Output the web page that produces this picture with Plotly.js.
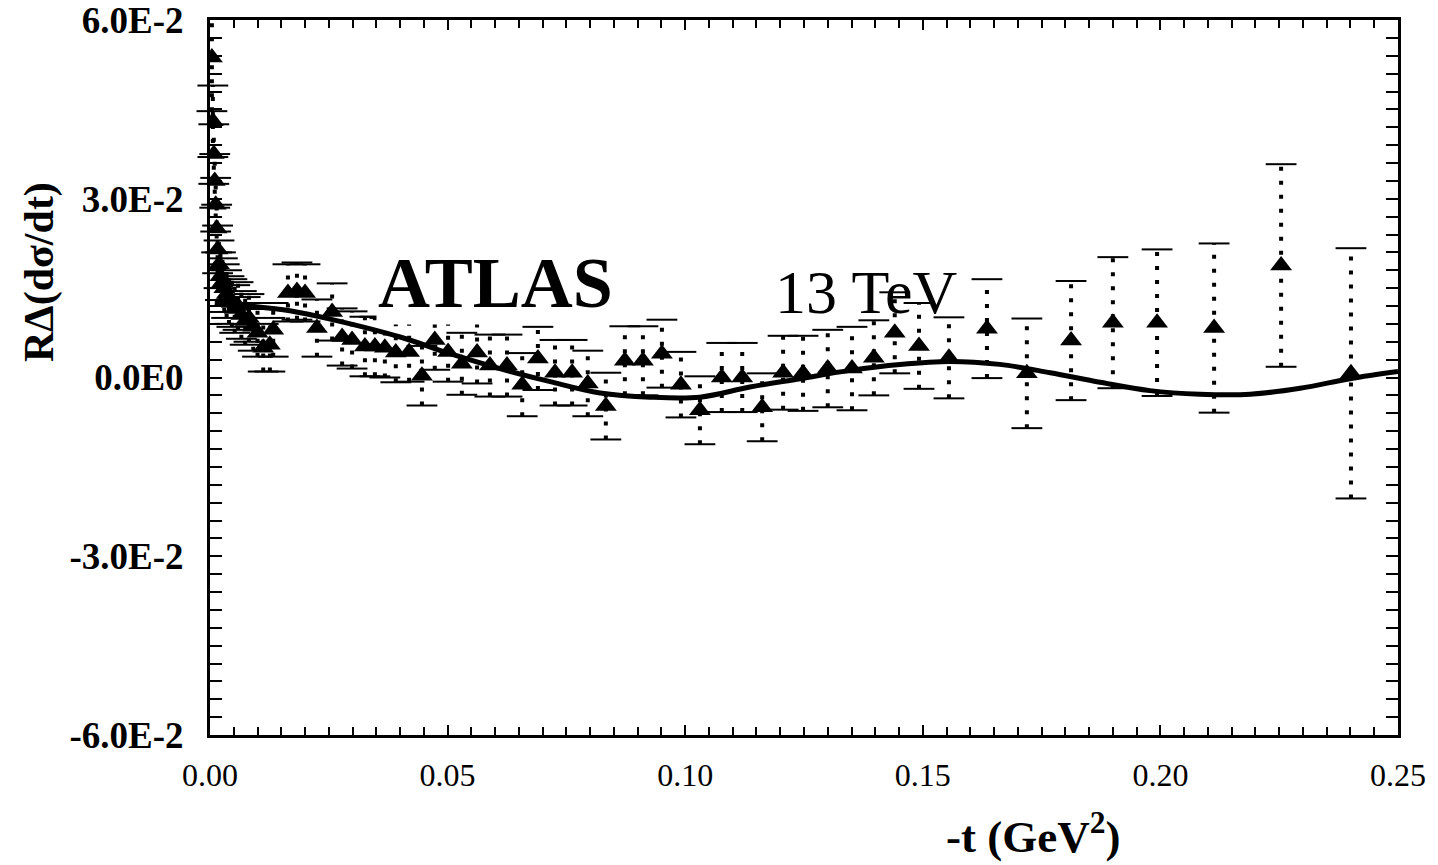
<!DOCTYPE html>
<html><head><meta charset="utf-8">
<script src="https://cdn.plot.ly/plotly-3.0.1.min.js"></script>
<style>body{margin:0;background:#fff}</style>
</head><body><div id="chart" style="width:1438px;height:865px"></div>
<script>
// -t (GeV^2) of the data points
const tValues = [0.0004,0.0006,0.0008,0.0010,0.0012,0.0014,0.0016,0.0019,0.0022,0.0026,0.0030,0.0035,0.0040,0.0046,0.0052,0.0059,0.0066,0.0074,0.0082,0.0091,0.0100,0.0112,0.0126,0.0133,
  0.0164,0.0183,0.0200,0.0225,0.0257,0.0278,0.0299,0.0326,0.0347,0.0368,0.0391,0.0419,0.0446,0.0473,0.0501,0.0530,0.0562,0.0589,0.0625,0.0657,0.0690,0.0726,0.0762,0.0795,0.0833,0.0873,0.0911,0.0951,0.0991,0.1031,0.1077,0.1120,0.1162,0.1206,0.1248,0.1300,0.1351,0.1397,0.1441,0.1492,0.1555,0.1635,0.1719,0.1812,0.1900,0.1993,0.2113,0.2254,0.2401];
// R Delta(dsigma/dt) values
const rValues = [0.0537,0.0430,0.0375,0.0330,0.0290,0.0250,0.0215,0.0190,0.0170,0.0160,0.0150,0.0140,0.0130,0.0125,0.0115,0.0120,0.0105,0.0095,0.0100,0.0085,0.0075,0.0050,0.0055,0.0080,
  0.0142,0.0145,0.0142,0.0083,0.0110,0.0068,0.0063,0.0052,0.0052,0.0050,0.0042,0.0043,0.0003,0.0063,0.0043,0.0023,0.0042,0.0020,0.0020,-0.0012,0.0032,0.0008,0.0008,-0.0010,-0.0048,0.0028,0.0028,0.0040,-0.0012,-0.0055,0.0000,0.0000,-0.0050,0.0008,0.0007,0.0015,0.0015,0.0033,0.0075,0.0053,0.0033,0.0082,0.0007,0.0062,0.0092,0.0092,0.0083,0.0188,0.0007];
// errors
const rErrors = [0.0090,0.0060,0.0050,0.0045,0.0045,0.0040,0.0040,0.0040,0.0040,0.0040,0.0040,0.0040,0.0040,0.0040,0.0040,0.0040,0.0040,0.0040,0.0040,0.0040,0.0040,0.0040,0.0045,0.0045,
  0.0048,0.0048,0.0048,0.0048,0.0048,0.0048,0.0048,0.0050,0.0050,0.0050,0.0050,0.0050,0.0050,0.0050,0.0050,0.0052,0.0052,0.0052,0.0052,0.0053,0.0053,0.0055,0.0055,0.0055,0.0056,0.0058,0.0058,0.0057,0.0055,0.0057,0.0058,0.0058,0.0057,0.0062,0.0063,0.0065,0.0070,0.0063,0.0068,0.0072,0.0068,0.0083,0.0092,0.0100,0.0110,0.0123,0.0142,0.0170,0.0210];
// model curve
const curveT = [0.001,0.0084,0.0168,0.0253,0.040,0.0505,0.061,0.0716,0.0821,0.0926,0.1031,0.1136,0.1242,0.1347,0.1452,0.1557,0.1662,0.1768,0.1873,0.1978,0.2083,0.2189,0.2294,0.2399,0.25];
const curveR = [0.0125,0.0120,0.0112,0.0098,0.0068,0.0040,0.0015,-0.0007,-0.0026,-0.0033,-0.0033,-0.0016,-0.0002,0.0012,0.0022,0.0027,0.0022,0.0008,-0.0008,-0.0022,-0.0028,-0.0028,-0.0018,-0.0002,0.0010];
const yTickVals = [-0.06,-0.03,0,0.03,0.06];
const yTickText = ['-6.0E-2','-3.0E-2','0.0E0','3.0E-2','6.0E-2'];
const xTickVals = [0,0.05,0.10,0.15,0.20,0.25];
const xTickText = ['0.00','0.05','0.10','0.15','0.20','0.25'];

const errX = [], errY = [], capX = [], capY = [];
tValues.forEach((t, i) => {
  errX.push(t, t, null);
  errY.push(rValues[i] - rErrors[i], rValues[i] + rErrors[i], null);
  capX.push(t, t);
  capY.push(rValues[i] - rErrors[i], rValues[i] + rErrors[i]);
});

const traces = [
  {x: errX, y: errY, type: 'scatter', mode: 'lines', cliponaxis: false,
   line: {color: '#000', width: 4, dash: '4px,10px'}, hoverinfo: 'skip', showlegend: false},
  {x: capX, y: capY, type: 'scatter', mode: 'markers', cliponaxis: false,
   marker: {symbol: 'line-ew', size: 22, line: {color: '#000', width: 2}}, hoverinfo: 'skip', showlegend: false},
  {x: curveT, y: curveR, type: 'scatter', mode: 'lines',
   line: {color: '#000', width: 5, shape: 'spline', smoothing: 1}, showlegend: false},
  {x: tValues, y: rValues, type: 'scatter', mode: 'markers',
   marker: {symbol: 'triangle-up', size: 19, color: '#000'}, showlegend: false}
];

const serif = 'Liberation Serif, Times New Roman, serif';
const layout = {
  width: 1438, height: 865,
  margin: {l: 210, r: 40, t: 20, b: 130},
  paper_bgcolor: '#fff', plot_bgcolor: '#fff',
  showlegend: false,
  xaxis: {
    range: [0, 0.25], tickmode: 'array', tickvals: xTickVals, ticktext: xTickText,
    showgrid: false, zeroline: false, showline: true, linecolor: '#000', linewidth: 3, mirror: 'allticks',
    ticks: 'inside', ticklen: 10, tickwidth: 2, tickcolor: '#000', ticklabelstandoff: 10,
    tickfont: {family: serif, size: 32, color: '#000'},
    minor: {dtick: 0.005, tick0: 0, ticks: 'inside', ticklen: 8, tickwidth: 2, tickcolor: '#000', showgrid: false}
  },
  yaxis: {
    range: [-0.0600001, 0.0600001], tickmode: 'array', tickvals: yTickVals, ticktext: yTickText,
    showgrid: false, zeroline: false, showline: true, linecolor: '#000', linewidth: 3, mirror: 'allticks',
    ticks: 'inside', ticklen: 12, tickwidth: 2, tickcolor: '#000', ticklabelstandoff: 16,
    ticklabeloverflow: 'allow',
    tickfont: {family: serif, size: 37, color: '#000', weight: 'bold'},
    minor: {dtick: 0.003, tick0: 0, ticks: 'inside', ticklen: 12, tickwidth: 2, tickcolor: '#000', showgrid: false}
  },
  annotations: [
    {xref: 'paper', yref: 'paper', x: (39 - 210) / 1188, y: (735 - 272) / 715, xanchor: 'center', yanchor: 'middle', showarrow: false,
     textangle: -90, text: 'RΔ(dσ/dt)', font: {family: serif, size: 42, color: '#000', weight: 'bold'}},
    {xref: 'paper', yref: 'paper', x: (1033 - 210) / 1188, y: -0.138, xanchor: 'center', yanchor: 'middle', showarrow: false,
     text: '-t (GeV<sup>2</sup>)', font: {family: serif, size: 45, color: '#000', weight: 'bold'}},
    {xref: 'x', yref: 'y', x: 0.06, y: 0.0158, xanchor: 'center', yanchor: 'middle', showarrow: false,
     text: 'ATLAS', bgcolor: '#fff', font: {family: serif, size: 72, color: '#000', weight: 'bold'}},
    {xref: 'x', yref: 'y', x: 0.138, y: 0.0143, xanchor: 'center', yanchor: 'middle', showarrow: false,
     text: '13 TeV', font: {family: serif, size: 62, color: '#000'}}
  ]
};
Plotly.newPlot('chart', traces, layout, {displayModeBar: false, staticPlot: true});
</script>
</body></html>
